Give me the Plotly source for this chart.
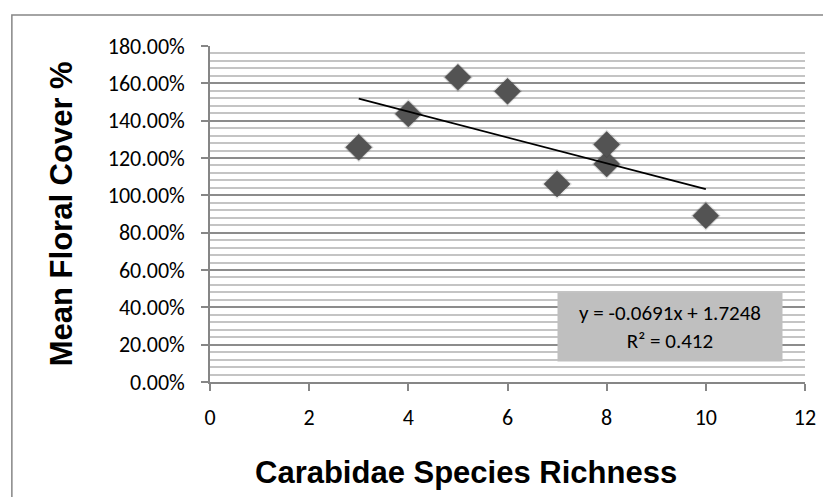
import numpy as np
import plotly.graph_objects as go

# Data
species_richness = [3, 4, 5, 6, 7, 8, 8, 10]
floral_cover = [1.257, 1.436, 1.632, 1.557, 1.061, 1.168, 1.272, 0.891]

x_ticks = [0, 2, 4, 6, 8, 10, 12]
y_ticks = [0.0, 0.2, 0.4, 0.6, 0.8, 1.0, 1.2, 1.4, 1.6, 1.8]
y_tick_labels = ["0.00%", "20.00%", "40.00%", "60.00%", "80.00%", "100.00%",
                 "120.00%", "140.00%", "160.00%", "180.00%"]

equation_text = "y = -0.0691x + 1.7248<br>R² = 0.412"
x_title = "Carabidae Species Richness"
y_title = "Mean Floral Cover %"

# Linear trendline computed from the data
slope, intercept = np.polyfit(species_richness, floral_cover, 1)
trend_x = [min(species_richness), max(species_richness)]
trend_y = [slope * v + intercept for v in trend_x]

tick_font = dict(family="Carlito, Calibri, Lato, sans-serif", size=22, color="#000000")
title_font = dict(family="Liberation Sans, Arial, sans-serif",
                  size=31, color="#000000", weight="bold")

fig = go.Figure()

# soft shadow behind markers
fig.add_trace(go.Scatter(
    x=species_richness, y=floral_cover, mode="markers",
    marker=dict(symbol="diamond", size=23, color="rgba(0,0,0,0.12)", line=dict(width=0)),
    hoverinfo="skip", showlegend=False,
))
fig.add_trace(go.Scatter(
    x=species_richness, y=floral_cover, mode="markers",
    marker=dict(symbol="diamond", size=20, color="#535353",
                line=dict(width=0.5, color="#464646")),
    showlegend=False,
))
fig.add_trace(go.Scatter(
    x=trend_x, y=trend_y, mode="lines",
    line=dict(color="#000000", width=1.8),
    hoverinfo="skip", showlegend=False,
))

fig.update_layout(
    width=831, height=497,
    margin=dict(l=202, r=34, t=38, b=123),
    paper_bgcolor="#ffffff", plot_bgcolor="#ffffff",
    showlegend=False,
    xaxis=dict(
        range=[0, 12], tickvals=x_ticks, ticktext=[str(v) for v in x_ticks],
        showgrid=False, zeroline=False,
        showline=True, linecolor="#868686", linewidth=1.5,
        ticks="outside", ticklen=7, tickcolor="#868686", tickwidth=1.5,
        tickfont=tick_font, ticklabelstandoff=8,
    ),
    yaxis=dict(
        range=[0, 1.8], tickvals=y_ticks, ticktext=y_tick_labels,
        showgrid=True, gridcolor="#8c8c8c", gridwidth=1.5,
        minor=dict(dtick=0.04, showgrid=True, gridcolor="#c4c4c4", gridwidth=1.5),
        zeroline=False,
        showline=True, linecolor="#868686", linewidth=1.5,
        ticks="outside", ticklen=7, tickcolor="#868686", tickwidth=1.5,
        tickfont=tick_font, ticklabelstandoff=12,
    ),
    shapes=[dict(
        type="rect", xref="paper", yref="paper",
        x0=-0.333, x1=1.2, y0=-0.5, y1=1.092,
        line=dict(color="#868686", width=1.5), fillcolor="rgba(0,0,0,0)", layer="below",
    )],
    annotations=[
        dict(
            xref="paper", yref="paper", x=0.773, y=0.165,
            xanchor="center", yanchor="middle",
            text=equation_text, showarrow=False,
            font=dict(family="Carlito, Calibri, Lato, sans-serif", size=21, color="#000000"),
            bgcolor="#bfbfbf", width=222, height=66, align="center",
        ),
        dict(
            xref="paper", yref="paper", x=0.43, y=-0.27,
            xanchor="center", yanchor="middle",
            text=x_title, showarrow=False, font=title_font,
        ),
        dict(
            xref="paper", yref="paper", x=-0.25, y=0.5,
            xanchor="center", yanchor="middle", textangle=-90,
            text=y_title, showarrow=False, font=title_font,
        ),
    ],
)

fig.write_html("out.html")
